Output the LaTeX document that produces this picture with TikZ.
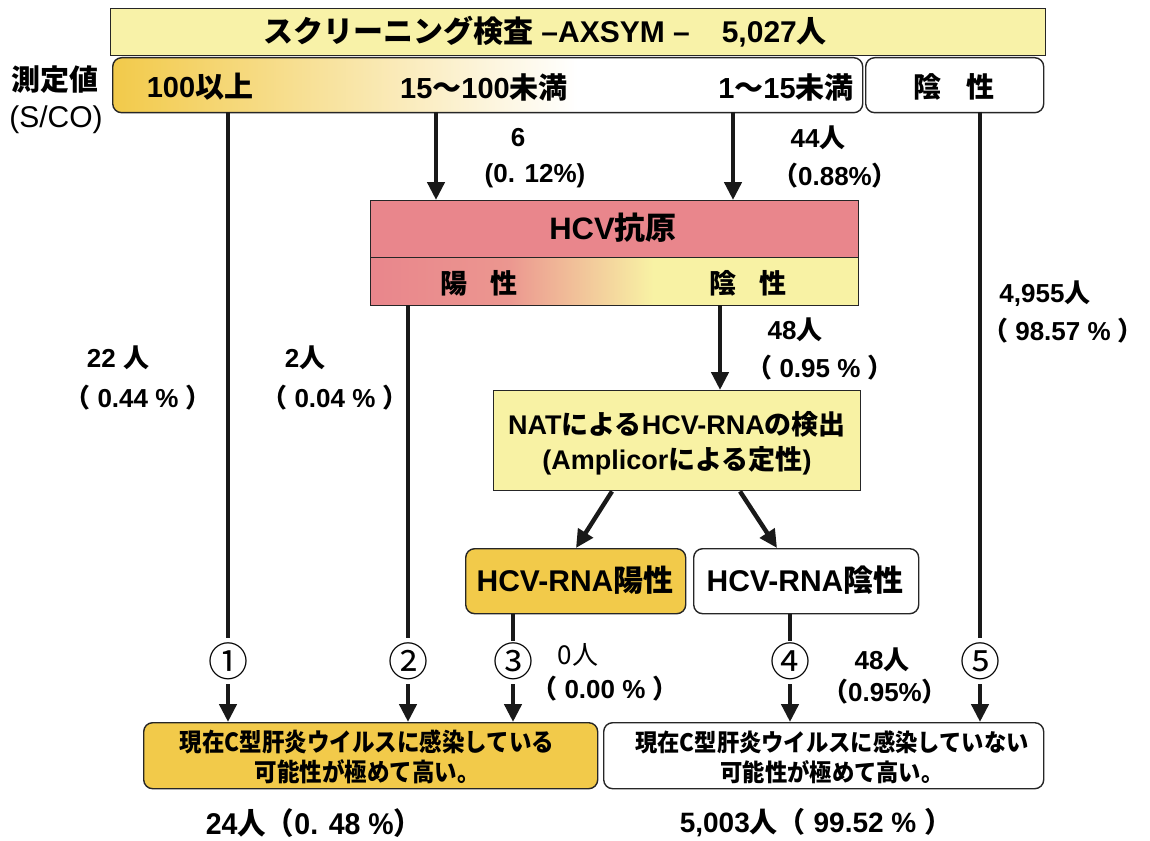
\documentclass[tikz,border=0pt]{standalone}
\usepackage{fontspec}
\setmainfont{Liberation Sans}
\newfontfamily\jpf{Noto Sans CJK JP}
\newcommand\JP[1]{{\jpf #1}}
\newcommand\fsz[1]{\fontsize{#1}{#1}\selectfont}
\usetikzlibrary{arrows.meta}
\definecolor{ylw}{HTML}{F8F2A8}
\definecolor{gold}{HTML}{F2CA4A}
\definecolor{pinkc}{HTML}{E9868C}
\definecolor{lylw}{HTML}{F8F2A4}
\pgfdeclarehorizontalshading{goldfade}{100bp}{color(0bp)=(gold); color(25bp)=(gold); color(56bp)=(white); color(100bp)=(white)}
\pgfdeclarehorizontalshading{pinkfade}{100bp}{color(0bp)=(pinkc); color(25bp)=(pinkc); color(39bp)=(pinkc!85!lylw); color(54bp)=(lylw); color(100bp)=(lylw)}
\tikzset{
  box/.style={draw=black!85, line width=1.4pt, inner sep=0pt, anchor=north west},
  rbox/.style={box, rounded corners=9pt},
  lbl/.style={inner sep=0pt, font=\bfseries\fsz{26}},
  flow/.style={line width=4.4pt, draw=black!90},
  arr/.style={flow, -{Triangle[length=18pt,width=17pt]}},
  circ/.style={inner sep=0pt, minimum height=46pt, font=\jpf\fsz{40}},
}
\begin{document}
\begin{tikzpicture}[x=1pt,y=-1pt]
\useasboundingbox (0,0) rectangle (1150,840);
\fill[white] (0,0) rectangle (1150,840);

% top
\node[box, fill=ylw, minimum width=935pt, minimum height=47pt] (top) at (110,8) {};
\node[inner sep=0pt, font=\bfseries\fsz{30}] (topt) at (545,32) {\JP{\bfseries スクリーニング検査} –AXSYM –\hspace{32pt}5,027\JP{\bfseries 人}};

% row
\node[rbox, shading=goldfade, minimum width=750pt, minimum height=55pt] (row) at (112,57) {};
\node[rbox, fill=white, minimum width=178pt, minimum height=55pt] (neg) at (865,57) {};
\node[lbl, font=\bfseries\fsz{29}] (r1) at (200,87) {100\JP{\bfseries 以上}};
\node[lbl, font=\bfseries\fsz{29}] (r2) at (484,87) {15\JP{\bfseries ～}100\JP{\bfseries 未満}};
\node[lbl, font=\bfseries\fsz{29}] (r3) at (786,87) {1\JP{\bfseries ～}15\JP{\bfseries 未満}};
\node[lbl, font=\jpf\bfseries\fsz{28}] (r4) at (954,87) {陰\hspace{26pt}性};
\node[lbl, font=\jpf\bfseries\fsz{29}] (m1) at (55,80) {測定値};
\node[inner sep=0pt, font=\fsz{30}] (m2) at (56,120) {(S/CO)};

% HCV antigen
\node[box, fill=pinkc, minimum width=488pt, minimum height=57pt] (ag) at (370,200) {};
\node[lbl, font=\bfseries\fsz{31}] (agt) at (613,228) {HCV\JP{\bfseries 抗原}};
\node[box, shading=pinkfade, minimum width=488pt, minimum height=48pt] (agr) at (370,257) {};
\node[lbl, font=\jpf\bfseries\fsz{27}] (pos) at (479,283) {陽\hspace{24pt}性};
\node[lbl, font=\jpf\bfseries\fsz{27}] (agn) at (748,283) {陰\hspace{24pt}性};

% NAT
\node[box, fill=lylw, minimum width=367pt, minimum height=100pt] (nat) at (493,390) {};
\node[lbl, font=\bfseries\fsz{27}] (nat1) at (677,424) {NAT\JP{\bfseries による}HCV-RNA\JP{\bfseries の検出}};
\node[lbl, font=\bfseries\fsz{27}] (nat2) at (677,461) {(Amplicor\JP{\bfseries による定性})};

% RNA results
\node[rbox, fill=gold, minimum width=220pt, minimum height=65pt] (rp) at (465,548) {};
\node[lbl, font=\bfseries\fsz{30}] (rpt) at (575,580) {HCV-RNA\JP{\bfseries 陽性}};
\node[rbox, fill=white, minimum width=225pt, minimum height=65pt] (rn) at (693,548) {};
\node[lbl, font=\bfseries\fsz{30}] (rnt) at (805,580) {HCV-RNA\JP{\bfseries 陰性}};

% bottom boxes
\node[rbox, fill=gold, minimum width=454pt, minimum height=66pt] (bl) at (143,722) {};
\node[inner sep=0pt, font=\jpf\bfseries\fsz{25}, align=center] (blt) at (367,757) {\scalebox{0.9}[1]{現在C型肝炎ウイルスに感染している}\\[5pt]\scalebox{0.9}[1]{可能性が極めて高い。}};
\node[rbox, fill=white, minimum width=440pt, minimum height=66pt] (br) at (603,722) {};
\node[inner sep=0pt, font=\jpf\bfseries\fsz{24}, align=center] (brt) at (832,757) {\scalebox{0.93}[1]{現在C型肝炎ウイルスに感染していない}\\[6pt]\scalebox{0.93}[1]{可能性が極めて高い。}};
\node[lbl, font=\bfseries\fsz{30}] (bls) at (314,823) {\scalebox{0.95}[1]{24\JP{\bfseries 人（}0. 48 \%\JP{）}}};
\node[lbl, font=\bfseries\fsz{28}] (brs) at (816,823) {5,003\JP{\bfseries 人（}~99.52 \%~\JP{）}};

% source coordinates
\coordinate (s1) at (228,112);
\coordinate (s2) at (436,112);
\coordinate (s3) at (733,112);
\coordinate (s5) at (980,112);
\coordinate (a1) at (408,305);
\coordinate (a2) at (720,305);

% circled numbers
\node[circ] (c1) at (228,661) {①};
\node[circ] (c2) at (408,661) {②};
\node[circ] (c3) at (513,661) {③};
\node[circ] (c4) at (790,661) {④};
\node[circ] (c5) at (980,661) {⑤};

% connectors
\draw[arr] (s2) -- (ag.north -| s2);
\draw[arr] (s3) -- (ag.north -| s3);
\draw[arr] (a2) -- (nat.north -| a2);
\draw[flow] (s1) -- (c1.north);
\draw[flow] (a1) -- (c2.north);
\draw[flow] (s5) -- (c5.north);
\draw[flow] (rp.south -| c3) -- ([yshift=-3pt]c3.north);
\draw[flow] (rn.south -| c4) -- ([yshift=-3pt]c4.north);
\draw[arr] (c1.south) -- (bl.north -| c1);
\draw[arr] (c2.south) -- (bl.north -| c2);
\draw[arr] (c3.south) -- (bl.north -| c3);
\draw[arr] (c4.south) -- (br.north -| c4);
\draw[arr] (c5.south) -- (br.north -| c5);
\draw[arr] (nat.south -| 612,0) -- (rp.north -| 576,0);
\draw[arr] (nat.south -| 740,0) -- (rn.north -| 777,0);

% count labels
\node[lbl] (l6) at (518,138) {6};
\node[lbl] (l6p) at (535,176) {(0. 12\%)};
\node[lbl] (l44) at (818,138) {44\JP{\bfseries 人}};
\node[lbl] (l44p) at (835,176) {\JP{（}0.88\%\JP{）}};
\node[lbl] (l48) at (795,330) {48\JP{\bfseries 人}};
\node[lbl] (l48p) at (820,368) {\JP{（}~0.95 \%~\JP{）}};
\node[lbl] (l22) at (118,358) {22 \JP{\bfseries 人}};
\node[lbl] (l22p) at (138,398) {\JP{（}~0.44 \%~\JP{）}};
\node[lbl] (l2) at (305,358) {2\JP{\bfseries 人}};
\node[lbl] (l2p) at (335,398) {\JP{（}~0.04 \%~\JP{）}};
\node[lbl] (l4955) at (1045,294) {4,955\JP{\bfseries 人}};
\node[lbl] (l4955p) at (1063,331) {\JP{（}~98.57 \%~\JP{）}};
\node[lbl, font=\fsz{26}] (l0) at (578,655) {\JP{0人}};
\node[lbl] (l0p) at (605,689) {\JP{（}~0.00 \%~\JP{）}};
\node[lbl] (l48b) at (882,660) {48\JP{\bfseries 人}};
\node[lbl] (l48bp) at (885,692) {\JP{（}0.95\%\JP{）}};
\end{tikzpicture}
\end{document}
